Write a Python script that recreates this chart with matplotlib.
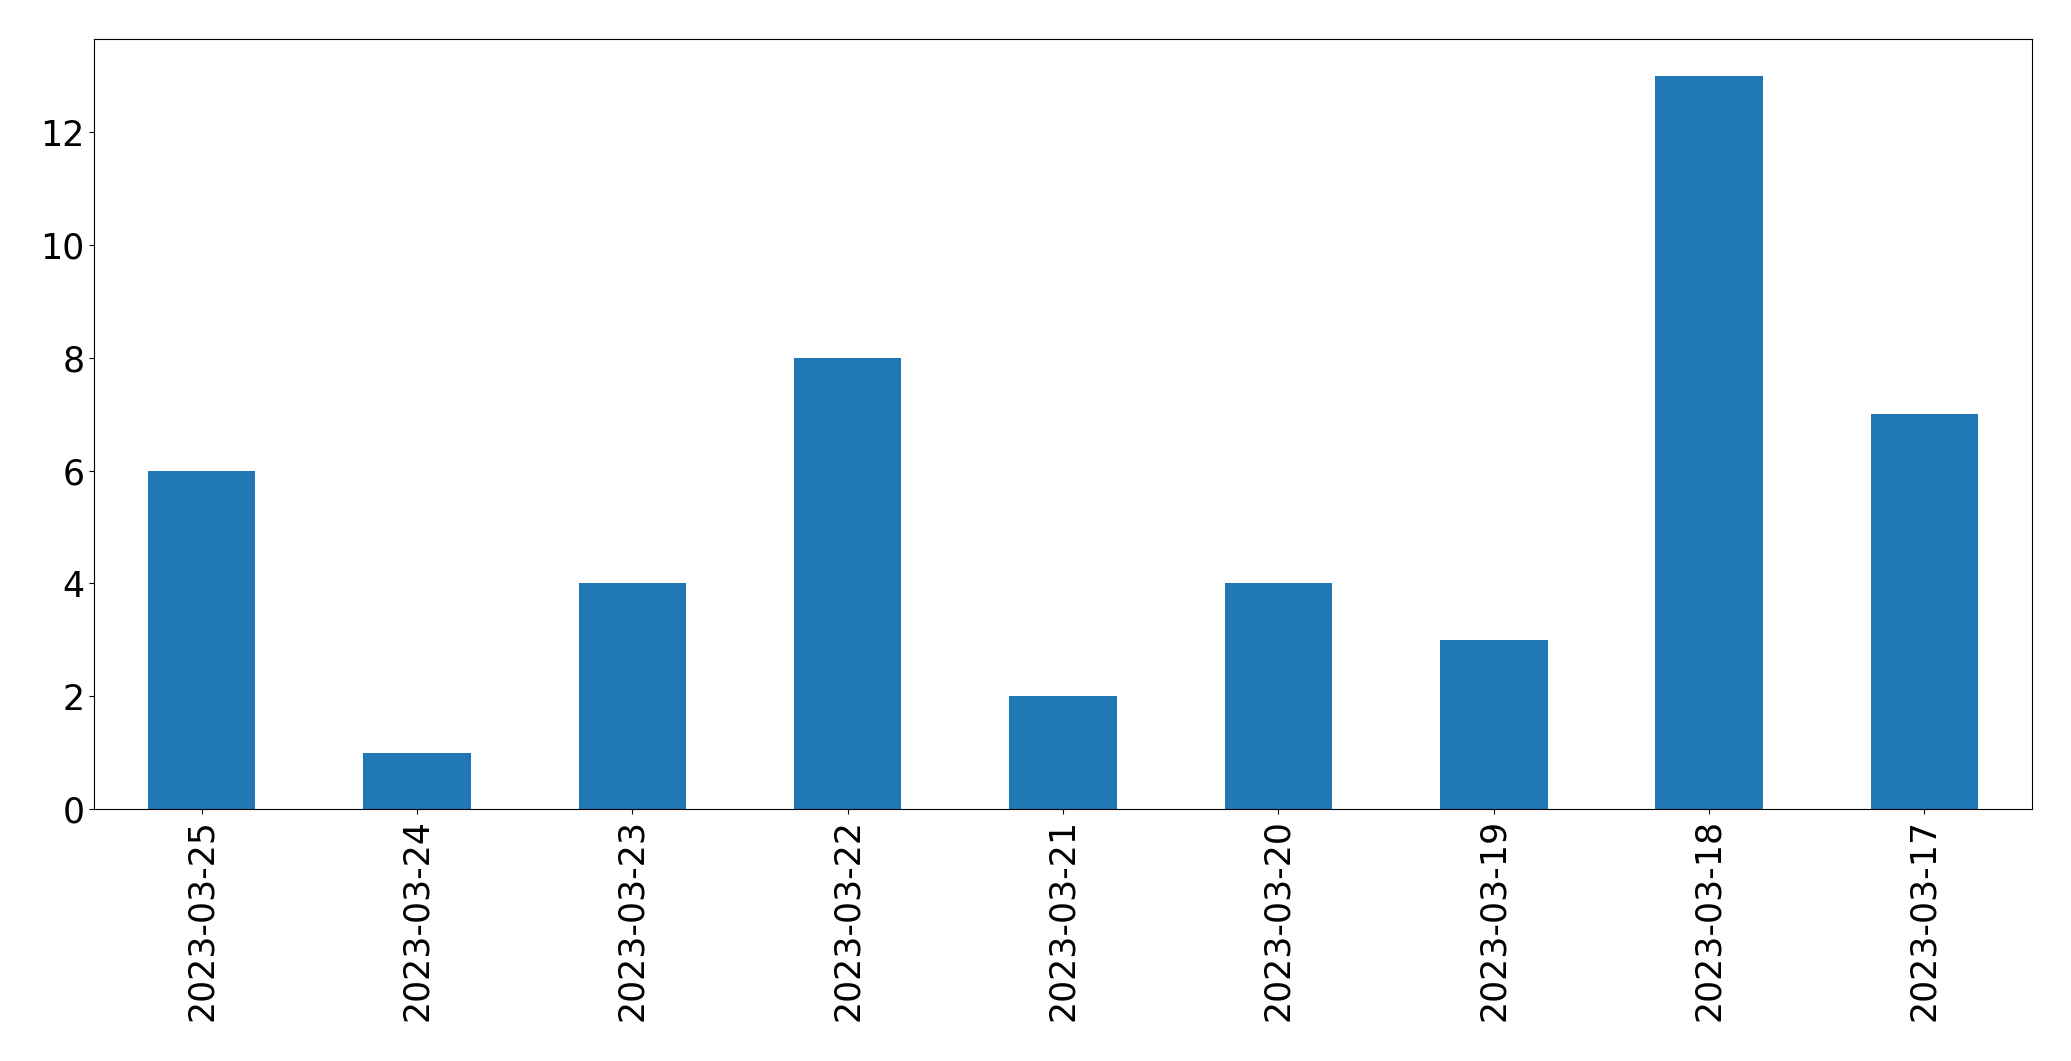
import matplotlib.pyplot as plt

dates = ["2023-03-25", "2023-03-24", "2023-03-23", "2023-03-22", "2023-03-21",
         "2023-03-20", "2023-03-19", "2023-03-18", "2023-03-17"]
counts = [6, 1, 4, 8, 2, 4, 3, 13, 7]

fig = plt.figure(figsize=(20.71, 10.61), dpi=100)
ax = fig.add_axes([94 / 2071, 1 - 809 / 1061, (2032 - 94) / 2071, (809 - 39) / 1061])

x = range(len(dates))
ax.bar(x, counts, width=0.5, color="#1f77b4")
ax.set_xlim(-0.5, len(dates) - 0.5)
ax.set_xticks(list(x))
ax.set_xticklabels(dates, rotation=90)
ax.tick_params(labelsize=25)

fig.savefig("out.png", dpi=100)
